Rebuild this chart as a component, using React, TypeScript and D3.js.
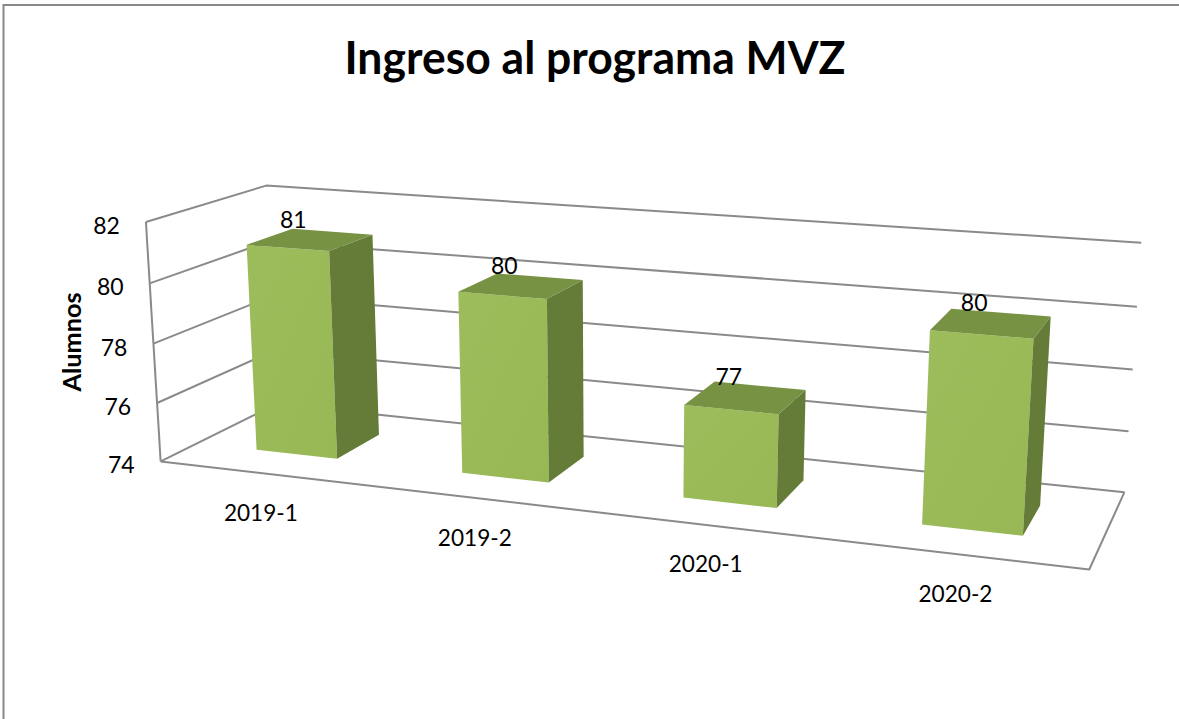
import React from "react";
import * as d3 from "d3";

const categories = ["2019-1", "2019-2", "2020-1", "2020-2"];
const values = [81, 80, 77, 80];
const yTicks = [74, 76, 78, 80, 82];
const yDomain: [number, number] = [74, 82];
const title = "Ingreso al programa MVZ";
const yTitle = "Alumnos";

// Layout: screen positions of the plot box corners (unit cube u,v,w -> px)
const CAL: [number, number, number, number, number][] = [
  [0, 0, 0, 160, 462],
  [0, 0.25, 0, 157, 403],
  [0, 0.5, 0, 155, 343],
  [0, 0.75, 0, 150, 283],
  [0, 1, 0, 145, 222],
  [0, 1, 1, 266, 186],
  [1, 1, 1, 1141, 243],
  [1, 0.75, 1, 1137, 307],
  [1, 0.5, 1, 1133, 369],
  [1, 0.25, 1, 1129, 431],
  [1, 0, 1, 1124, 492],
  [1, 0, 0, 1089, 570],
];

function solve(A: number[][], b: number[]): number[] {
  const n = b.length;
  const M = A.map((r, i) => [...r, b[i]]);
  for (let c = 0; c < n; c++) {
    let p = c;
    for (let r = c + 1; r < n; r++) if (Math.abs(M[r][c]) > Math.abs(M[p][c])) p = r;
    [M[c], M[p]] = [M[p], M[c]];
    for (let r = 0; r < n; r++) {
      if (r === c) continue;
      const f = M[r][c] / M[c][c];
      for (let k = c; k <= n; k++) M[r][k] -= f * M[c][k];
    }
  }
  return M.map((r, i) => r[n] / r[i]);
}

function buildProjector() {
  const rows: number[][] = [];
  const rhs: number[] = [];
  const nx = (x: number) => (x - 600) / 500;
  const ny = (y: number) => (y - 400) / 500;
  for (const [X, Y, Z, x0, y0] of CAL) {
    const x = nx(x0), y = ny(y0);
    rows.push([X, Y, Z, 1, 0, 0, 0, 0, -x * X, -x * Y, -x * Z]);
    rhs.push(x);
    rows.push([0, 0, 0, 0, X, Y, Z, 1, -y * X, -y * Y, -y * Z]);
    rhs.push(y);
  }
  const n = 11;
  const AtA = Array.from({ length: n }, () => new Array(n).fill(0));
  const Atb = new Array(n).fill(0);
  rows.forEach((r, i) => {
    for (let a = 0; a < n; a++) {
      Atb[a] += r[a] * rhs[i];
      for (let b = 0; b < n; b++) AtA[a][b] += r[a] * r[b];
    }
  });
  const p = solve(AtA, Atb);
  return (u: number, v: number, w: number): [number, number] => {
    const d = p[8] * u + p[9] * v + p[10] * w + 1;
    const x = (p[0] * u + p[1] * v + p[2] * w + p[3]) / d;
    const y = (p[4] * u + p[5] * v + p[6] * w + p[7]) / d;
    return [x * 500 + 600, y * 500 + 400];
  };
}

export default function App() {
  const P = buildProjector();
  const xBand = d3.scaleBand<string>().domain(categories).range([0, 1]).paddingInner(0.6).paddingOuter(0.3);
  const yScale = d3.scaleLinear().domain(yDomain).range([0, 1]);
  const W0 = 0.3, W1 = 0.7;
  const line = (pts: [number, number][]) => d3.line()(pts) as string;
  const poly = (pts: [number, number][]) => (d3.line()(pts) as string) + "Z";
  const gridColor = "#8a8a8a";
  const gw = 2;
  const font = "Lato, 'Open Sans', sans-serif";

  return (
    <svg width={1179} height={719} style={{ position: "absolute", left: 0, top: 0, background: "#fff" }}>
      <defs>
        <linearGradient id="frontGrad" x1="0" y1="0" x2="1" y2="1">
          <stop offset="0" stopColor="#9DBC5B" />
          <stop offset="1" stopColor="#98B856" />
        </linearGradient>
      </defs>
      <rect x={0} y={0} width={1179} height={719} fill="#fff" />
      <path d="M3.5,719 L3.5,5 L1179,5" fill="none" stroke="#888" strokeWidth={2} />
      <text x={595} y={74} textAnchor="middle" fontFamily={font} fontWeight={700} fontSize={46}
        textLength={501} lengthAdjust="spacingAndGlyphs" fill="#000">{title}</text>

      {/* walls gridlines */}
      {yTicks.map((t) => {
        const v = yScale(t);
        return (
          <path key={t} d={line([P(0, v, 0), P(0, v, 1), P(1, v, 1)])} fill="none" stroke={gridColor} strokeWidth={gw} strokeLinejoin="round" />
        );
      })}
      {/* axis edge */}
      <path d={line([P(0, 0, 0), P(0, 1, 0)])} fill="none" stroke={gridColor} strokeWidth={gw} />
      {/* floor outline */}
      <path d={line([P(0, 0, 0), P(1, 0, 0), P(1, 0, 1)])} fill="none" stroke={gridColor} strokeWidth={gw} strokeLinejoin="round" />

      {/* tick labels */}
      {yTicks.map((t) => {
        const [x, y] = P(0, yScale(t), 0);
        return (
          <text key={t} x={x - 26} y={y + 3} textAnchor="end" dominantBaseline="central" fontFamily={font} fontSize={23} fill="#000">{t}</text>
        );
      })}
      <text transform="translate(71,342) rotate(-90)" textAnchor="middle" dominantBaseline="central" fontFamily={font} fontWeight={700} fontSize={25}
        textLength={99} lengthAdjust="spacingAndGlyphs" fill="#000">{yTitle}</text>

      {/* bars */}
      {categories.map((c, i) => {
        const u0 = xBand(c)!;
        const u1 = u0 + xBand.bandwidth();
        const uc = u0 + xBand.bandwidth() / 2;
        const vt = yScale(values[i]);
        const front = poly([P(u0, 0, W0), P(u1, 0, W0), P(u1, vt, W0), P(u0, vt, W0)]);
        const side = poly([P(u1, 0, W0), P(u1, 0, W1), P(u1, vt, W1), P(u1, vt, W0)]);
        const top = poly([P(u0, vt, W0), P(u1, vt, W0), P(u1, vt, W1), P(u0, vt, W1)]);
        const tc = P(uc, vt, (W0 + W1) / 2);
        return (
          <g key={c}>
            <path d={front} fill="url(#frontGrad)" />
            <path d={side} fill="#657B38" />
            <path d={top} fill="#789244" />
            <text x={tc[0] - 17} y={tc[1] - 21} textAnchor="middle" dominantBaseline="central" fontFamily={font} fontSize={23} fill="#000">{values[i]}</text>
          </g>
        );
      })}

      {/* category labels */}
      {categories.map((c) => {
        const uc = xBand(c)! + xBand.bandwidth() / 2;
        const [x, y] = P(uc, 0, 0);
        return (
          <text key={c} x={x - 1} y={y + 38} textAnchor="middle" dominantBaseline="central" fontFamily={font} fontSize={24}
            textLength={74} lengthAdjust="spacingAndGlyphs" fill="#000">{c}</text>
        );
      })}
    </svg>
  );
}
